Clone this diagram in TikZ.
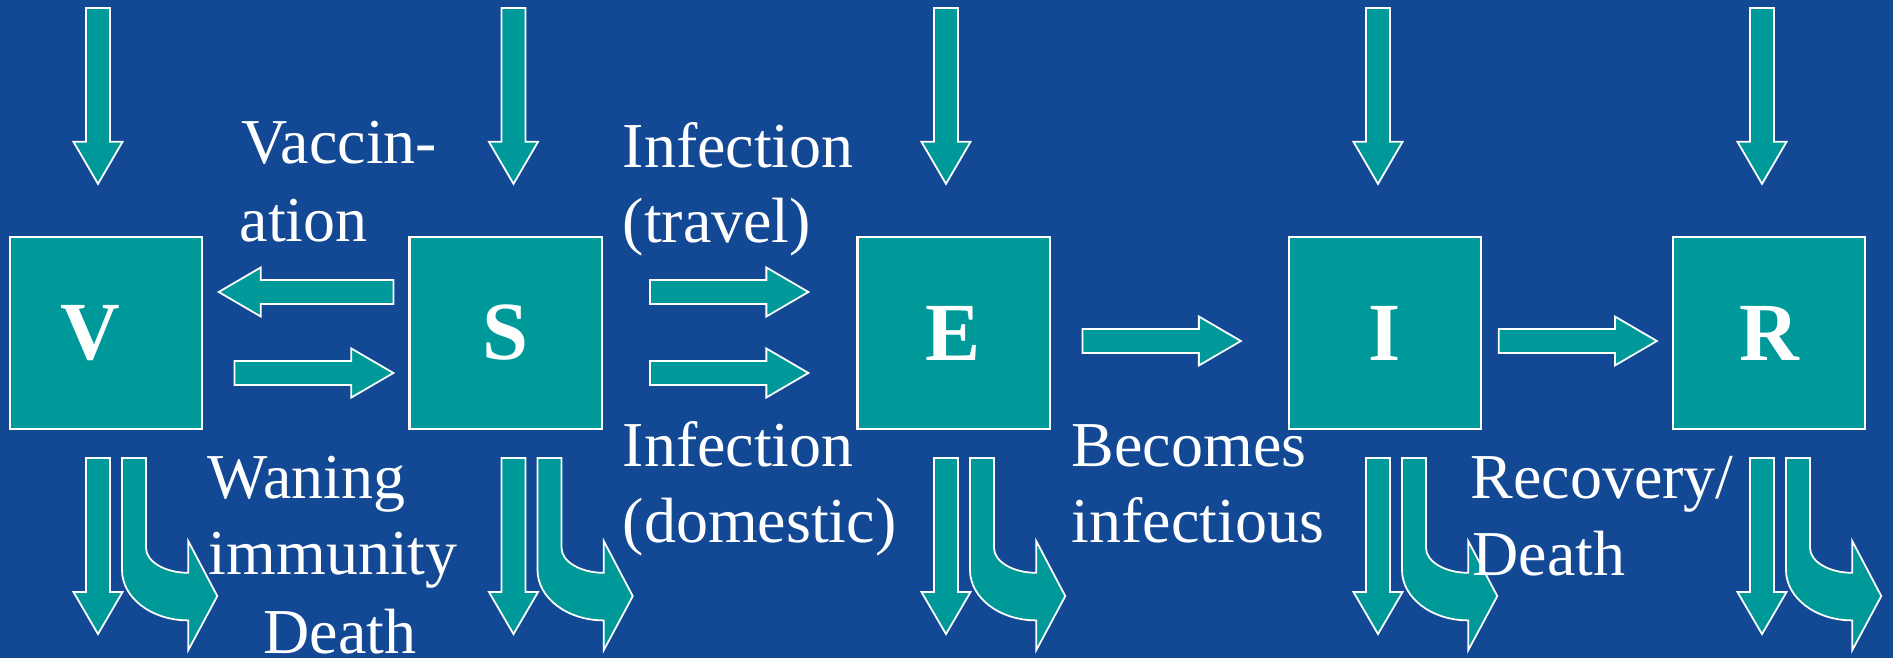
\documentclass[tikz,border=0pt]{standalone}
\usepackage{fontspec}
\setmainfont{Liberation Serif}
\usetikzlibrary{calc}

\definecolor{slidebg}{RGB}{18,72,148}
\definecolor{boxteal}{RGB}{0,153,153}

% straight block arrow from #1 to #2
\newcommand{\fatarrow}[2]{%
  \path[flow] let \p1=(#1), \p2=($(#2)-(#1)$), \n1={veclen(\x2,\y2)}, \n2={atan2(\y2,\x2)} in
    [shift={(\p1)}, rotate=\n2]
    (0cm,0.12cm) -- (\n1-0.42cm,0.12cm) -- (\n1-0.42cm,0.245cm) -- (\n1+0cm,0cm)
    -- (\n1-0.42cm,-0.245cm) -- (\n1-0.42cm,-0.12cm) -- (0cm,-0.12cm) -- cycle;}

% bent outflow arrow, #1 = top of the straight outflow arrow
\newcommand{\bentarrow}[1]{%
  \draw[flow, shift={(#1)}] (24,0) -- (48,0) -- (48,89.7)
    arc[start angle=180, end angle=90, x radius=42.3, y radius=25] -- (90.3,83)
    -- (119.3,138) -- (90.3,192) -- (90.3,162.3)
    arc[start angle=90, end angle=180, x radius=66.3, y radius=50.3] -- cycle;}

\begin{document}
\begin{tikzpicture}[x=0.01cm, y=-0.01cm,
    flow/.style={draw=white, fill=boxteal, line width=0.5pt},
    box/.style={draw=white, fill=boxteal, line width=0.6pt, inner sep=0pt,
      minimum width=1.92cm, minimum height=1.92cm, text=white,
      font=\fontsize{23.5}{28}\selectfont\bfseries},
    lbl/.style={anchor=base west, inner sep=0pt, text=white,
      font=\fontsize{18.2}{22}\selectfont}]
\fill[slidebg] (0,0) rectangle (1893,658);
\useasboundingbox (0,0) rectangle (1893,658);

% compartments
\node[box] (V) at (106,333) {\hspace*{-0.32cm}V};
\node[box] (S) at (505.5,333) {S};
\node[box] (E) at (953.5,333) {E};
\node[box] (I) at (1385,333) {I};
\node[box] (R) at (1769,333) {R};

% flows between compartments
\coordinate (vaccA) at ($(S.west)+(-15,-41)$);
\coordinate (vaccB) at ($(V.east)+(15.6,-41)$);
\coordinate (waneA) at ($(V.east)+(31.5,40)$);
\coordinate (waneB) at ($(S.west)+(-15,40)$);
\coordinate (travA) at ($(S.east)+(47.5,-41)$);
\coordinate (travB) at ($(E.west)+(-48,-41)$);
\coordinate (domA) at ($(S.east)+(47.5,40)$);
\coordinate (domB) at ($(E.west)+(-48,40)$);
\coordinate (infA) at ($(E.east)+(32,8)$);
\coordinate (infB) at ($(I.west)+(-47,8)$);
\coordinate (recA) at ($(I.east)+(16.7,8)$);
\coordinate (recB) at ($(R.west)+(-15,8)$);
\fatarrow{vaccA}{vaccB}
\fatarrow{waneA}{waneB}
\fatarrow{travA}{travB}
\fatarrow{domA}{domB}
\fatarrow{infA}{infB}
\fatarrow{recA}{recB}

% inflow from above, outflows below
\foreach \cmp/\dx in {V/-8, S/8, E/-7.5, I/-7, R/-7} {
  \coordinate (top\cmp) at ($(\cmp.north)+(\dx,-228)$);
  \coordinate (in\cmp) at ($(\cmp.north)+(\dx,-52)$);
  \coordinate (out\cmp) at ($(\cmp.south)+(\dx,28)$);
  \coordinate (bot\cmp) at ($(\cmp.south)+(\dx,204)$);
  \fatarrow{top\cmp}{in\cmp}
  \fatarrow{out\cmp}{bot\cmp}
  \bentarrow{out\cmp}
}

% labels
\node[lbl] (vacc1) at (241,163.7) {Vaccin-};
\node[lbl] (vacc2) at (239,241.3) {ation};
\node[lbl] (trav1) at (622,168) {Infection};
\node[lbl] (trav2) at (622,243) {(travel)};
\node[lbl] (wane1) at (207,499) {Waning};
\node[lbl] (wane2) at (208,575) {immunity};
\node[lbl] (wane3) at (263,653) {Death};
\node[lbl] (dom1) at (622,467) {Infection};
\node[lbl] (dom2) at (622,543) {(domestic)};
\node[lbl] (inf1) at (1071,467) {Becomes};
\node[lbl] (inf2) at (1071,543) {infectious};
\node[lbl] (rec1) at (1470,499) {Recovery/};
\node[lbl] (rec2) at (1472,576) {Death};
\end{tikzpicture}
\end{document}
